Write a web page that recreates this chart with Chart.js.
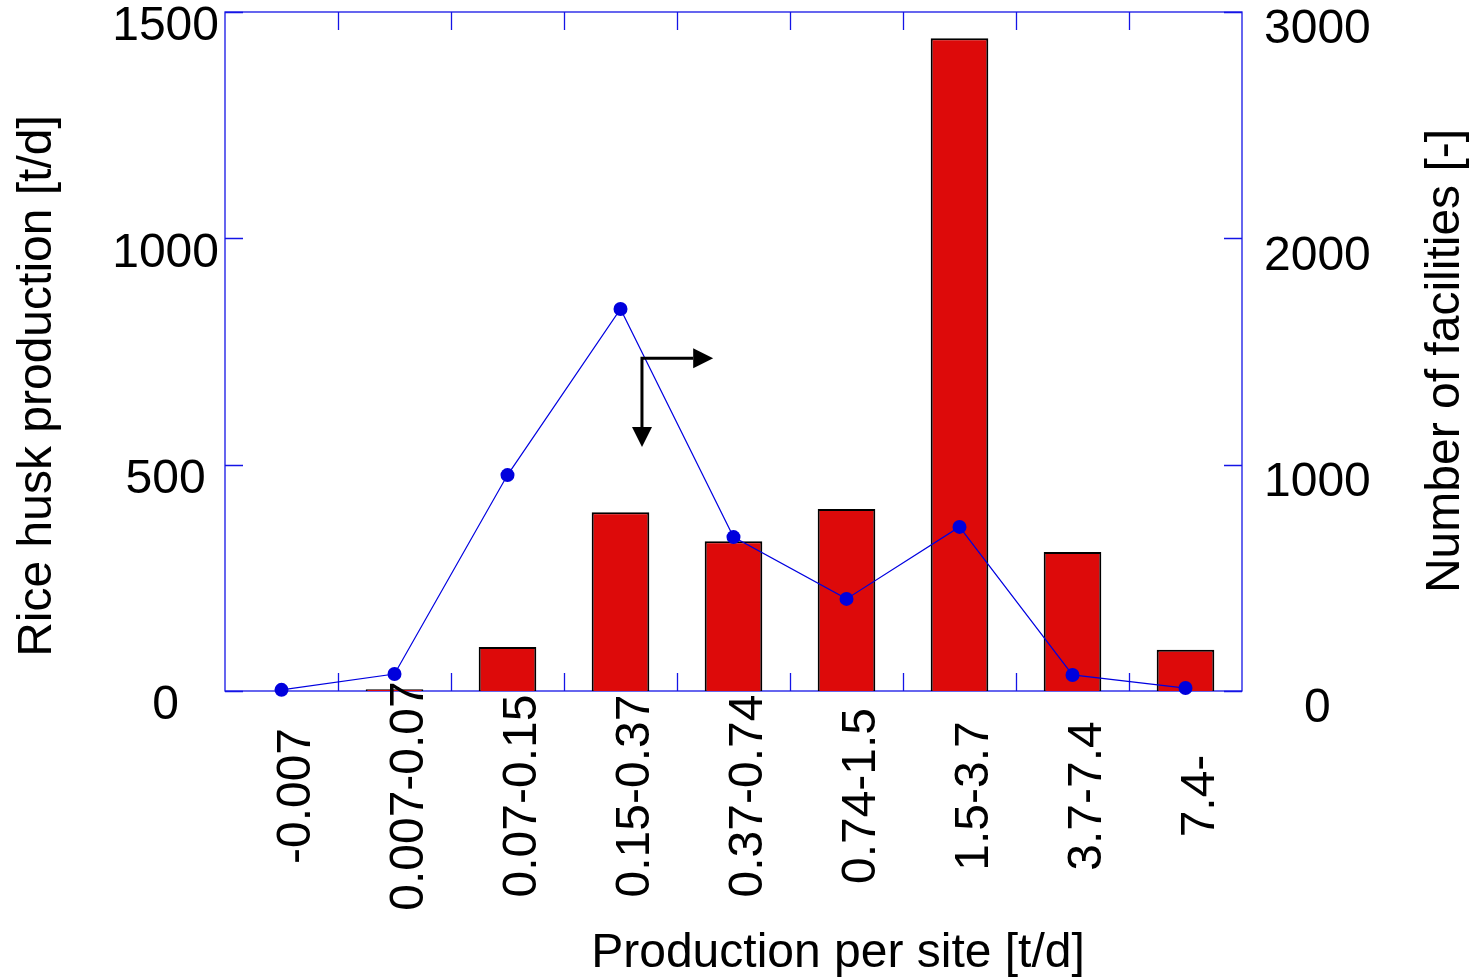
<!DOCTYPE html>
<html>
<head>
<meta charset="utf-8">
<script src="https://cdn.jsdelivr.net/npm/chart.js@4.4.1/dist/chart.umd.min.js"></script>
<style>
  html, body { margin: 0; padding: 0; background: #fff; }
  #wrap { width: 1477px; height: 979px; }
</style>
</head>
<body>
<div id="wrap"><canvas id="chart"></canvas></div>
<script>
// size classes (production per site, t/d)
const sizeClasses = ['-0.007', '0.007-0.07', '0.07-0.15', '0.15-0.37', '0.37-0.74', '0.74-1.5', '1.5-3.7', '3.7-7.4', '7.4-'];
// rice husk production [t/d] -> left axis, bars
const huskProduction = [0, 4, 97, 395, 331, 402, 1442, 307, 91];
// number of facilities [-] -> right axis, line
const facilityCount = [5, 75, 954, 1688, 680, 407, 725, 71, 13];

const leftTicks = [0, 500, 1000, 1500];
const rightTicks = [0, 1000, 2000, 3000];

const xTitle = 'Production per site [t/d]';
const leftTitle = 'Rice husk production [t/d]';
const rightTitle = 'Number of facilities [-]';

// arrows pointing the line to the right axis and the bars to the left axis
const arrowCorner = { x: 3.19, y: 1470 };
const arrowRightTip = 3.82;
const arrowDownTip = 1078;

const FONT = '"Liberation Sans", Arial, sans-serif';
const FONT_SIZE = 48;
const AXIS_BLUE = '#1414e6';

const fixBox = (w, h) => scale => {
    if (w) scale.width = w;
    if (h) scale.height = h;
    scale.paddingTop = 0;
    scale.paddingBottom = 0;
    scale.paddingLeft = 0;
    scale.paddingRight = 0;
};

const framePlugin = {
    id: 'frame',
    beforeDatasetsDraw(chart) {
        const { ctx, chartArea: a, scales } = chart;
        const len = 18;
        ctx.save();
        ctx.strokeStyle = AXIS_BLUE;
        ctx.lineWidth = 1.3;
        ctx.strokeRect(a.left, a.top, a.right - a.left, a.bottom - a.top);
        ctx.beginPath();
        for (let i = 0; i < sizeClasses.length - 1; i++) {
            const x = Math.round(scales.x.getPixelForValue(i + 0.5)) + 0.5;
            ctx.moveTo(x, a.top); ctx.lineTo(x, a.top + len);
            ctx.moveTo(x, a.bottom); ctx.lineTo(x, a.bottom - len);
        }
        leftTicks.forEach(v => {
            const y = Math.round(scales.y.getPixelForValue(v)) + 0.5;
            ctx.moveTo(a.left, y); ctx.lineTo(a.left + len, y);
        });
        rightTicks.forEach(v => {
            const y = Math.round(scales.y1.getPixelForValue(v)) + 0.5;
            ctx.moveTo(a.right, y); ctx.lineTo(a.right - len, y);
        });
        ctx.stroke();
        ctx.restore();
    },
    afterDatasetsDraw(chart) {
        const { ctx, scales } = chart;
        const cx = scales.x.getPixelForValue(arrowCorner.x);
        const cy = scales.y1.getPixelForValue(arrowCorner.y);
        const rx = scales.x.getPixelForValue(arrowRightTip);
        const dy = scales.y1.getPixelForValue(arrowDownTip);
        const head = 20, half = 10;
        ctx.save();
        ctx.strokeStyle = '#000';
        ctx.fillStyle = '#000';
        ctx.lineWidth = 3;
        ctx.beginPath();
        ctx.moveTo(rx - head, cy); ctx.lineTo(cx, cy); ctx.lineTo(cx, dy - head);
        ctx.stroke();
        ctx.beginPath();
        ctx.moveTo(rx, cy); ctx.lineTo(rx - head, cy - half); ctx.lineTo(rx - head, cy + half);
        ctx.closePath(); ctx.fill();
        ctx.beginPath();
        ctx.moveTo(cx, dy); ctx.lineTo(cx - half, dy - head); ctx.lineTo(cx + half, dy - head);
        ctx.closePath(); ctx.fill();
        ctx.restore();
    },
    afterDraw(chart) {
        const { ctx, scales } = chart;
        ctx.save();
        ctx.fillStyle = '#000';
        ctx.font = FONT_SIZE + 'px ' + FONT;

        // x tick labels, rotated, centred
        ctx.textAlign = 'center';
        ctx.textBaseline = 'alphabetic';
        sizeClasses.forEach((label, i) => {
            const x = scales.x.getPixelForValue(i) + 28;
            ctx.save();
            ctx.translate(x, 796);
            ctx.rotate(-Math.PI / 2);
            ctx.fillText(label, 0, 0);
            ctx.restore();
        });

        // axis titles
        ctx.fillText(xTitle, 838, 967);

        ctx.save();
        ctx.translate(51, 386);
        ctx.rotate(-Math.PI / 2);
        ctx.fillText(leftTitle, 0, 0);
        ctx.restore();

        ctx.save();
        ctx.translate(1459, 361);
        ctx.rotate(-Math.PI / 2);
        ctx.fillText(rightTitle, 0, 0);
        ctx.restore();

        ctx.restore();
    }
};

new Chart(document.getElementById('chart'), {
    type: 'bar',
    data: {
        labels: sizeClasses,
        datasets: [{
            type: 'line',
            label: 'Number of facilities',
            data: facilityCount,
            yAxisID: 'y1',
            borderColor: '#0000e0',
            backgroundColor: '#0000dd',
            borderWidth: 1.2,
            pointRadius: 7,
            pointBorderWidth: 0,
            tension: 0,
            clip: false,
            order: 1
        }, {
            label: 'Rice husk production',
            data: huskProduction,
            yAxisID: 'y',
            backgroundColor: '#dd0a0a',
            borderColor: '#000',
            borderWidth: 2,
            barPercentage: 0.51,
            categoryPercentage: 1,
            order: 2
        }]
    },
    options: {
        responsive: true,
        maintainAspectRatio: false,
        animation: false,
        layout: { padding: { top: 12, left: 0, right: 0, bottom: 0 } },
        plugins: {
            legend: { display: false },
            tooltip: { enabled: false }
        },
        scales: {
            x: {
                grid: { display: false, drawTicks: false },
                border: { display: false },
                ticks: { display: false },
                afterFit: fixBox(0, 288)
            },
            y: {
                position: 'left',
                min: 0,
                max: 1500,
                afterBuildTicks: scale => { scale.ticks = leftTicks.map(v => ({ value: v })); },
                grid: { display: false, drawTicks: false },
                border: { display: false },
                ticks: {
                    color: '#000',
                    font: { family: FONT, size: FONT_SIZE },
                    padding: 6,
                    crossAlign: 'center',
                    labelOffset: 15,
                    callback: v => String(v)
                },
                afterFit: fixBox(225, 0)
            },
            y1: {
                position: 'right',
                min: 0,
                max: 3000,
                afterBuildTicks: scale => { scale.ticks = rightTicks.map(v => ({ value: v })); },
                grid: { display: false, drawTicks: false },
                border: { display: false },
                ticks: {
                    color: '#000',
                    font: { family: FONT, size: FONT_SIZE },
                    padding: 22,
                    crossAlign: 'center',
                    labelOffset: 18,
                    callback: v => String(v)
                },
                afterFit: fixBox(235, 0)
            }
        }
    },
    plugins: [framePlugin]
});
</script>
</body>
</html>
